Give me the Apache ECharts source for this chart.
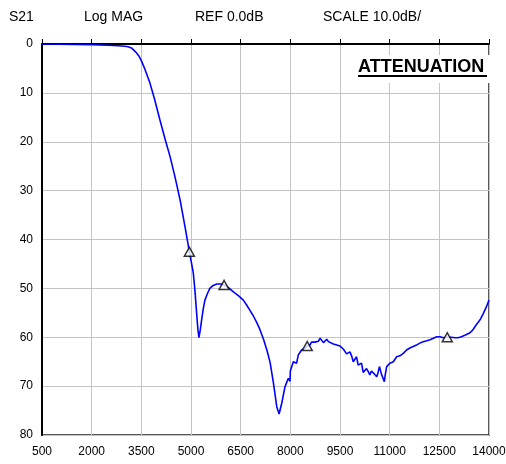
<!DOCTYPE html>
<html>
<head>
<meta charset="utf-8">
<script src="https://cdn.jsdelivr.net/npm/echarts@6/dist/echarts.min.js"></script>
<style>
  html, body { margin: 0; padding: 0; background: #fff; }
  #chart { width: 506px; height: 464px; }
</style>
</head>
<body>
<div id="chart"></div>
<script>
  // frequency points (x) and attenuation in dB (y)
  var freq = [
    500, 1000, 1500, 2000, 2500, 2800, 3000, 3100, 3200, 3280, 3350, 3420, 3500, 3600,
    3760, 3900, 4060, 4210, 4370, 4520, 4670, 4820, 4950, 5020, 5070, 5120, 5170, 5210,
    5240, 5280, 5320, 5370, 5420, 5500, 5570, 5670, 5780, 5900, 6000, 6140, 6280, 6430,
    6580, 6680, 6780, 6880, 6980, 7080, 7190, 7300, 7390, 7490, 7590, 7660, 7740, 7840, 7940, 7990,
    8000, 8040, 8090, 8140, 8190, 8240, 8290, 8340, 8430, 8510, 8590, 8640, 8690, 8740,
    8800, 8850, 8900, 8950, 9000, 9050, 9100, 9150, 9200, 9300, 9400, 9450, 9500, 9600,
    9650, 9700, 9750, 9800, 9850, 9900, 9950, 10000, 10050, 10100, 10150, 10200, 10250,
    10300, 10350, 10400, 10450, 10500, 10550, 10610, 10650, 10690, 10730, 10760, 10800,
    10840, 10870, 10910, 10960, 11010, 11060, 11110, 11160, 11210, 11260, 11310, 11360,
    11410, 11460, 11510, 11560, 11610, 11660, 11710, 11760, 11810, 11860, 11910, 11960,
    12010, 12060, 12120, 12170, 12220, 12270, 12320, 12370, 12420, 12470, 12520, 12570,
    12620, 12680, 12740, 12800, 12860, 12920, 12980, 13050, 13120, 13200, 13270, 13330,
    13400, 13470, 13530, 13600, 13680, 13750, 13830, 13920, 14000
  ]
  var atten = [
    0, 0.05, 0.1, 0.15, 0.25, 0.35, 0.45, 0.55, 0.8, 1.3, 1.8, 2.4, 3.4, 5.0,
    8.0, 11.3, 15.5, 19.3, 23.1, 27.3, 31.9, 37.4, 42.5, 45.0, 46.9, 50.5, 55.1, 58.5,
    60.1, 58.5, 56.5, 54.2, 52.4, 51.0, 50.0, 49.4, 49.1, 49.1, 49.3, 49.9, 50.7, 51.5,
    52.4, 53.4, 54.5, 55.6, 56.9, 58.4, 60.4, 62.8, 65.2, 69.4, 74.2, 75.7, 73.5, 70.1, 68.4, 69.0,
    66.9, 66.7, 65.0, 64.7, 65.3, 63.6, 63.2, 62.6, 62.3, 61.8, 61.6, 61.0, 60.7, 61.0,
    61.3, 60.8, 60.2, 60.6, 61.1, 60.8, 60.4, 60.9, 61.1, 61.4, 61.6, 61.9, 61.8, 62.4,
    62.6, 63.4, 63.1, 63.0, 63.8, 65.0, 64.6, 64.0, 65.7, 65.5, 65.3, 67.2, 66.8,
    66.4, 67.0, 67.7, 66.9, 67.0, 67.6, 68.1, 67.2, 66.0, 67.0, 67.7, 67.5,
    69.1, 67.5, 66.0, 66.2, 65.3, 65.6, 65.0, 64.7, 64.0, 64.3, 63.8, 63.6,
    63.3, 62.9, 62.6, 62.7, 62.2, 62.3, 61.9, 61.7, 61.6, 61.2, 61.2, 61.0,
    60.9, 60.8, 60.7, 60.4, 60.5, 60.2, 60.2, 60.1, 59.9, 60.0, 59.9, 59.7,
    60.1, 59.8, 60.0, 60.3, 60.0, 60.2, 60.1, 60.1, 60.0, 59.8, 59.6, 59.4,
    59.2, 58.8, 58.3, 57.6, 56.9, 56.2, 55.1, 53.8, 52.4
  ]
  // triangle markers
  var markerFreq = [4950, 6000, 8510, 12740]
  var markerAtten = [42.5, 49.3, 61.8, 60.0]

  var headerTexts = ['S21', 'Log MAG', 'REF 0.0dB', 'SCALE 10.0dB/']
  var headerX = [9, 84, 195, 323]

  var traceData = []
  for (var i = 0; i < freq.length; i++) {
    traceData.push([freq[i], atten[i]])
  }
  var markerData = []
  for (var j = 0; j < markerFreq.length; j++) {
    markerData.push([markerFreq[j], markerAtten[j]])
  }

  var graphics = []
  for (var k = 0; k < headerTexts.length; k++) {
    graphics.push({
      type: 'text',
      left: headerX[k],
      top: 10,
      style: { text: headerTexts[k], fontSize: 14, fontFamily: 'Liberation Sans, Arial', fill: '#000' }
    })
  }
  // white box behind the label
  graphics.push({
    type: 'rect',
    shape: { x: 355, y: 55, width: 136, height: 28 },
    style: { fill: '#fff' },
    z: 100
  })
  graphics.push({
    type: 'text',
    left: 358,
    top: 58,
    style: { text: 'ATTENUATION', fontSize: 18, fontWeight: 'bold', fontFamily: 'Liberation Sans, Arial', fill: '#000' },
    z: 101
  })
  graphics.push({
    type: 'rect',
    shape: { x: 358, y: 75, width: 129, height: 2 },
    style: { fill: '#000' },
    z: 101
  })

  var chart = echarts.init(document.getElementById('chart'))
  chart.setOption({
    backgroundColor: '#fff',
    animation: false,
    textStyle: { fontFamily: 'Liberation Sans, Arial' },
    grid: {
      left: 42, right: 17, top: 44, bottom: 29,
      outerBoundsMode: 'none',
      show: true, borderColor: '#222', borderWidth: 1.5
    },
    xAxis: {
      type: 'value',
      min: 500,
      max: 14000,
      interval: 1500,
      axisLine: { show: true, lineStyle: { color: '#000', width: 2 } },
      axisTick: { show: true, inside: true, length: 5, lineStyle: { color: '#000' } },
      axisLabel: {
        color: '#000', fontSize: 12, margin: 11, showMaxLabel: true, showMinLabel: true,
        formatter: function (v) { return String(v) }
      },
      splitLine: { show: true, lineStyle: { color: '#c4c4c4', width: 1 } }
    },
    yAxis: {
      type: 'value',
      inverse: true,
      min: 0,
      max: 80,
      interval: 10,
      axisLine: { show: true, lineStyle: { color: '#000', width: 2 } },
      axisTick: { show: false },
      axisLabel: { color: '#000', fontSize: 12, margin: 9 },
      splitLine: { show: true, lineStyle: { color: '#c4c4c4', width: 1 } }
    },
    series: [
      {
        type: 'line',
        data: traceData,
        showSymbol: false,
        symbol: 'none',
        lineStyle: { color: '#0000ff', width: 1.6 },
        z: 3
      },
      {
        type: 'scatter',
        data: markerData,
        symbol: 'triangle',
        symbolSize: [10, 9],
        itemStyle: { color: '#fff', borderColor: '#000', borderWidth: 1.5 },
        z: 4
      }
    ],
    graphic: graphics
  })
</script>
</body>
</html>
